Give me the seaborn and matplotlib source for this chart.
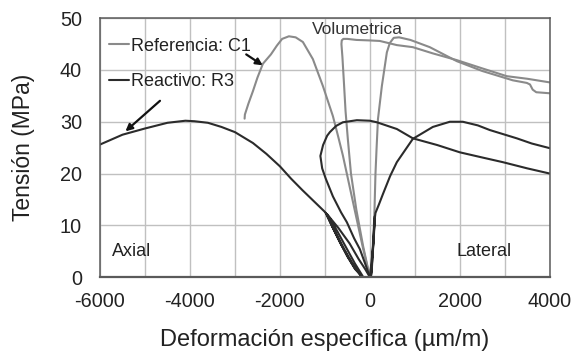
import numpy as np
import pandas as pd
import seaborn as sns
import matplotlib
matplotlib.use("Agg")
import matplotlib.pyplot as plt
from matplotlib.ticker import MultipleLocator

# --- Hormigón de referencia C1 (gris) ---
c1_axial_x = [0, -150, -300, -450, -600, -700, -822, -1044, -1267, -1489, -1650,
              -1800, -1950, -2067, -2200, -2378, -2500, -2600, -2700, -2778, -2785]
c1_axial_y = [0, 5.5, 11.5, 17.5, 23.5, 27.0, 31.1, 36.9, 42.1, 45.4, 46.3,
              46.5, 46.0, 44.7, 43.0, 41.2, 38.5, 35.9, 33.5, 31.4, 30.6]

c1_vol_x = [0, -150, -300, -420, -489, -540, -578, -610, -632, -625, -590, -500,
            -300, 0, 222, 600, 956, 1400, 1933, 2500, 3044, 3500, 4000]
c1_vol_y = [0, 6.0, 13.0, 20.0, 26.6, 32.0, 37.8, 42.5, 45.0, 45.7, 46.0, 46.0,
            45.8, 45.7, 45.6, 44.8, 44.4, 43.2, 41.9, 40.3, 38.8, 38.3, 37.6]

c1_lat_x = [0, 60, 100, 125, 150, 180, 267, 378, 444, 530, 650, 900, 1333,
            1933, 2500, 3178, 3489, 3560, 3620, 3700, 4000]
c1_lat_y = [0, 5.0, 12.0, 20.0, 25.0, 30.5, 36.9, 43.4, 45.2, 46.2, 46.3, 45.8,
            44.4, 41.7, 39.8, 38.0, 37.5, 37.2, 36.2, 35.7, 35.5]

# --- Hormigón reactivo R3 (negro), con ciclos de carga y descarga ---
r3_axial_x = [0, -100, -250, -450, -700, -956,
              -820, -650, -480, -320, -200,
              -380, -560, -740, -900, -980,
              -850, -680, -500, -330, -160,
              -330, -520, -720, -890, -1000,
              -1250, -1500, -1750, -2000, -2300, -2600, -3000, -3300, -3600,
              -3900, -4100, -4500, -5000, -5500, -6000]
r3_axial_y = [0, 1.5, 3.5, 6.5, 9.5, 12.2,
              9.5, 6.5, 3.8, 1.5, 0.3,
              2.5, 5.2, 8.2, 11.0, 12.4,
              10.0, 7.0, 4.0, 1.6, 0.2,
              2.6, 5.6, 8.8, 11.4, 12.6,
              14.7, 16.8, 19.0, 21.4, 23.8, 25.9, 28.0, 29.0, 29.8,
              30.1, 30.2, 29.8, 28.7, 27.5, 25.6]

r3_vol_x = [0, -100, -222, -350, -511, -640, -822, -980, -1060, -1100, -1040,
            -950, -889, -750, -600, -289, 0, 156, 600, 956, 1500, 2000, 2500,
            2956, 3500, 4000]
r3_vol_y = [0, 2.5, 5.4, 7.5, 10.6, 12.5, 15.6, 19.0, 21.0, 23.4, 25.5,
            27.3, 28.0, 29.2, 29.9, 30.3, 30.2, 29.9, 28.6, 26.8, 25.5, 24.1, 23.1,
            22.2, 21.0, 20.0]

r3_lat_x = [0, 40, 70, 90, 110, 90, 60, 40, 25, 50, 80, 105, 125,
            200, 289, 450, 600, 956, 1400, 1778, 2067, 2400, 2667, 3267,
            3600, 4000]
r3_lat_y = [0, 3.0, 6.0, 9.0, 11.8, 8.0, 4.0, 1.0, 0.2, 3.0, 7.0, 11.0, 12.4,
            14.0, 16.0, 19.5, 22.2, 26.7, 29.0, 30.0, 30.0, 29.3, 28.4, 26.8,
            25.8, 24.9]

serie_c1 = "Referencia: C1"
serie_r3 = "Reactivo: R3"

frames = []
for serie, curva, xs, ys in [
    (serie_c1, "C1 axial", c1_axial_x, c1_axial_y),
    (serie_c1, "C1 volumetrica", c1_vol_x, c1_vol_y),
    (serie_c1, "C1 lateral", c1_lat_x, c1_lat_y),
    (serie_r3, "R3 axial", r3_axial_x, r3_axial_y),
    (serie_r3, "R3 volumetrica", r3_vol_x, r3_vol_y),
    (serie_r3, "R3 lateral", r3_lat_x, r3_lat_y),
]:
    frames.append(pd.DataFrame({"deformacion": xs, "tension": ys,
                                "serie": serie, "curva": curva}))
datos = pd.concat(frames, ignore_index=True)

sns.set_theme(style="whitegrid")
plt.rcParams["font.family"] = ["Liberation Sans", "DejaVu Sans"]
plt.rcParams["axes.unicode_minus"] = False

fig = plt.figure(figsize=(5.83, 3.59), dpi=100)
ax = fig.add_axes([0.1715, 0.228, 0.7715, 0.7214])

sns.lineplot(data=datos, x="deformacion", y="tension", hue="serie",
             units="curva", estimator=None, sort=False,
             palette={serie_c1: "#8a8a8a", serie_r3: "#2b2b2b"},
             linewidth=1.5, ax=ax)

ax.set_xlim(-6000, 4000)
ax.set_ylim(0, 50)
ax.xaxis.set_major_locator(MultipleLocator(2000))
ax.xaxis.set_minor_locator(MultipleLocator(1000))
ax.yaxis.set_major_locator(MultipleLocator(10))
ax.grid(True, which="both", color="#c0c0c0", linewidth=1.0)
ax.set_axisbelow(True)
ax.tick_params(axis="both", which="both", length=0, labelsize=14.3,
               labelcolor="#222222")
ax.tick_params(axis="x", pad=11)
ax.tick_params(axis="y", pad=13)
for lado, sp in ax.spines.items():
    sp.set_color("#5a5a5a")
    sp.set_linewidth(1.6 if lado == "bottom" else 1.1)

ax.set_xlabel("Deformación específica (µm/m)", fontsize=17, color="#222222",
              labelpad=13)
ax.set_ylabel("Tensión (MPa)", fontsize=16.5, color="#222222", labelpad=18)

leg = ax.legend(loc="upper left", bbox_to_anchor=(0.02, 0.925), frameon=False,
                fontsize=13, handlelength=1.1, handletextpad=0.1,
                labelspacing=1.02, borderaxespad=0, borderpad=0)
for t in leg.get_texts():
    t.set_color("#222222")

ax.text(-5733, 5.0, "Axial", fontsize=13, color="#222222", va="center")
ax.text(1933, 5.0, "Lateral", fontsize=13, color="#222222", va="center")
ax.text(-267, 47.8, "Volumetrica", fontsize=12.5, color="#333333",
        ha="center", va="center")

flecha = dict(arrowstyle="-|>", color="#111111", lw=1.6, mutation_scale=10)
ax.annotate("", xy=(-2330, 40.6), xytext=(-2800, 43.3), arrowprops=flecha)
ax.annotate("", xy=(-5480, 27.8), xytext=(-4620, 34.4), arrowprops=flecha)

fig.savefig("out.png", dpi=100)
